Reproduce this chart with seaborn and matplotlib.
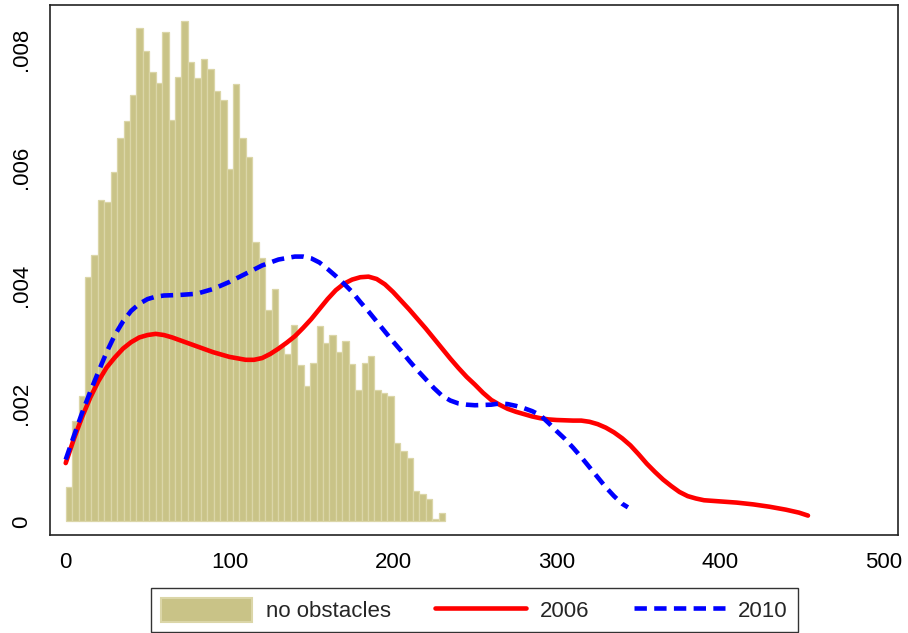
import numpy as np
import pandas as pd
import matplotlib
matplotlib.use("Agg")
import matplotlib.pyplot as plt
import seaborn as sns
from matplotlib.patches import Patch
from matplotlib.lines import Line2D

# ---------------- data ----------------
BIN_WIDTH = 3.93
hist_heights = [
    .00059, .00170, .00212, .00415, .00452, .00545, .00542, .00593, .00650, .00678,
    .00723, .00836, .00797, .00761, .00743, .00829, .00681, .00753, .00849, .00778,
    .00751, .00784, .00767, .00729, .00715, .00598, .00742, .00650, .00617, .00473,
    .00446, .00359, .00394, .00296, .00284, .00333, .00266, .00229, .00268, .00332,
    .00302, .00316, .00288, .00306, .00267, .00223, .00269, .00280, .00223, .00217,
    .00212, .00133, .00119, .00108, .00052, .00046, .00038, .00005, .00015,
]

x_2006 = [0, 5, 10, 15, 20, 25, 30, 35, 40, 45, 50, 55, 60, 65, 70, 80, 90, 100,
          110, 115, 120, 125, 130, 135, 140, 145, 150, 155, 160, 165, 170, 175,
          180, 185, 190, 195, 200, 205, 210, 215, 220, 225, 230, 235, 240, 245,
          250, 255, 260, 265, 270, 275, 280, 285, 290, 295, 300, 310, 315, 320,
          325, 330, 335, 340, 345, 350, 355, 360, 365, 370, 375, 380, 385, 390,
          400, 410, 420, 430, 440, 448, 453.5]
y_2006 = [.00099, .00140, .00177, .00210, .00238, .00261, .00278, .00293, .00304,
          .00312, .00316, .00318, .00316, .00312, .00307, .00297, .00287, .00279,
          .00274, .00274, .00277, .00284, .00293, .00303, .00314, .00328, .00343,
          .00360, .00377, .00392, .00403, .00410, .00414, .00415, .00411, .00402,
          .00389, .00374, .00359, .00343, .00327, .00310, .00293, .00276, .00260,
          .00245, .00232, .00218, .00206, .00198, .00191, .00186, .00182, .00178,
          .00175, .00173, .00172, .00171, .00171, .00169, .00165, .00159, .00151,
          .00141, .00129, .00114, .00098, .00084, .00071, .00060, .00050, .00043,
          .00039, .00036, .00034, .00032, .00029, .00025, .00020, .00015, .00010]

x_2010 = [0, 5, 10, 15, 20, 25, 30, 35, 40, 45, 50, 55, 60, 70, 80, 90, 100, 110,
          120, 130, 140, 145, 150, 155, 160, 165, 170, 175, 180, 185, 190, 195,
          200, 205, 210, 215, 220, 225, 230, 235, 240, 245, 250, 260, 265, 270,
          275, 280, 285, 290, 295, 300, 305, 310, 315, 320, 325, 330, 335, 340,
          343.5]
y_2010 = [.00105, .00145, .00184, .00220, .00254, .00287, .00316, .00339, .00357,
          .00369, .00377, .00381, .00383, .00384, .00386, .00394, .00406, .00420,
          .00434, .00444, .00449, .00449, .00446, .00439, .00428, .00416, .00403,
          .00389, .00372, .00356, .00339, .00322, .00305, .00289, .00272, .00256,
          .00241, .00226, .00213, .00205, .00200, .00198, .00197, .00198, .00200,
          .00199, .00196, .00192, .00187, .00180, .00167, .00153, .00140, .00125,
          .00109, .00092, .00075, .00058, .00043, .00030, .00024]

x_ticks = [0, 100, 200, 300, 400, 500]
y_ticks = [0, .002, .004, .006, .008]
y_tick_labels = ["0", ".002", ".004", ".006", ".008"]
legend_labels = ["no obstacles", "2006", "2010"]

# ---------------- style ----------------
sns.set_theme(style="white")
plt.rcParams["font.family"] = ["Liberation Sans", "DejaVu Sans"]

BAR_FILL = "#c9c387"
BAR_EDGE = "#dbd6a8"
RED = "#ff0000"
BLUE = "#0000ff"
LW = 3.3
DASH = (2.7, 1.6)

fig = plt.figure(figsize=(9.08, 6.33), dpi=100)
ax = fig.add_axes([50 / 908, 1 - 535 / 633, 848 / 908, 530 / 633])

n_bins = len(hist_heights)
centers = (np.arange(n_bins) + 0.5) * BIN_WIDTH
hist_df = pd.DataFrame({"x": centers, "w": hist_heights})

sns.histplot(data=hist_df, x="x", weights="w", binwidth=BIN_WIDTH,
             binrange=(0, n_bins * BIN_WIDTH), stat="count",
             color=BAR_FILL, edgecolor=BAR_EDGE, linewidth=0.9, alpha=1,
             ax=ax)

df06 = pd.DataFrame({"x": x_2006, "y": y_2006})
df10 = pd.DataFrame({"x": x_2010, "y": y_2010})
sns.lineplot(data=df06, x="x", y="y", color=RED, lw=LW, ax=ax,
             sort=False, solid_capstyle="round", solid_joinstyle="round")
sns.lineplot(data=df10, x="x", y="y", color=BLUE, lw=LW, ax=ax, sort=False)
ax.lines[-1].set_dashes(DASH)
ax.lines[-1].set_dash_capstyle("butt")
ax.lines[-1].set_dash_joinstyle("round")

ax.set_xlim(-9.6, 508.5)
ax.set_ylim(-0.000229, 0.008754)
ax.set_xlabel("")
ax.set_ylabel("")
ax.set_xticks(x_ticks)
ax.set_xticklabels([str(t) for t in x_ticks])
ax.set_yticks(y_ticks)
ax.set_yticklabels(y_tick_labels, rotation=90, va="center")

for s in ax.spines.values():
    s.set_color("#222222")
    s.set_linewidth(1.2)
ax.tick_params(axis="both", which="both", direction="out", color="#222222",
               width=1.1, labelsize=16, labelcolor="black")
ax.tick_params(axis="x", length=5.5, pad=7)
ax.tick_params(axis="y", length=7, pad=6)
ax.grid(False)

handles = [
    Patch(facecolor=BAR_FILL, edgecolor=BAR_EDGE, linewidth=1.5),
    Line2D([], [], color=RED, lw=LW),
    Line2D([], [], color=BLUE, lw=LW, dashes=DASH, dash_capstyle="butt"),
]
leg = fig.legend(handles, legend_labels, loc="center",
                 bbox_to_anchor=(474.5 / 908, 1 - 610 / 633), ncol=3,
                 frameon=True, fancybox=False, fontsize=16,
                 handlelength=4.1, handleheight=1.3, handletextpad=0.6,
                 columnspacing=2.0, borderpad=0.45, borderaxespad=0)
leg.get_frame().set_edgecolor("black")
leg.get_frame().set_linewidth(1.0)

fig.savefig("out.png", dpi=100)
